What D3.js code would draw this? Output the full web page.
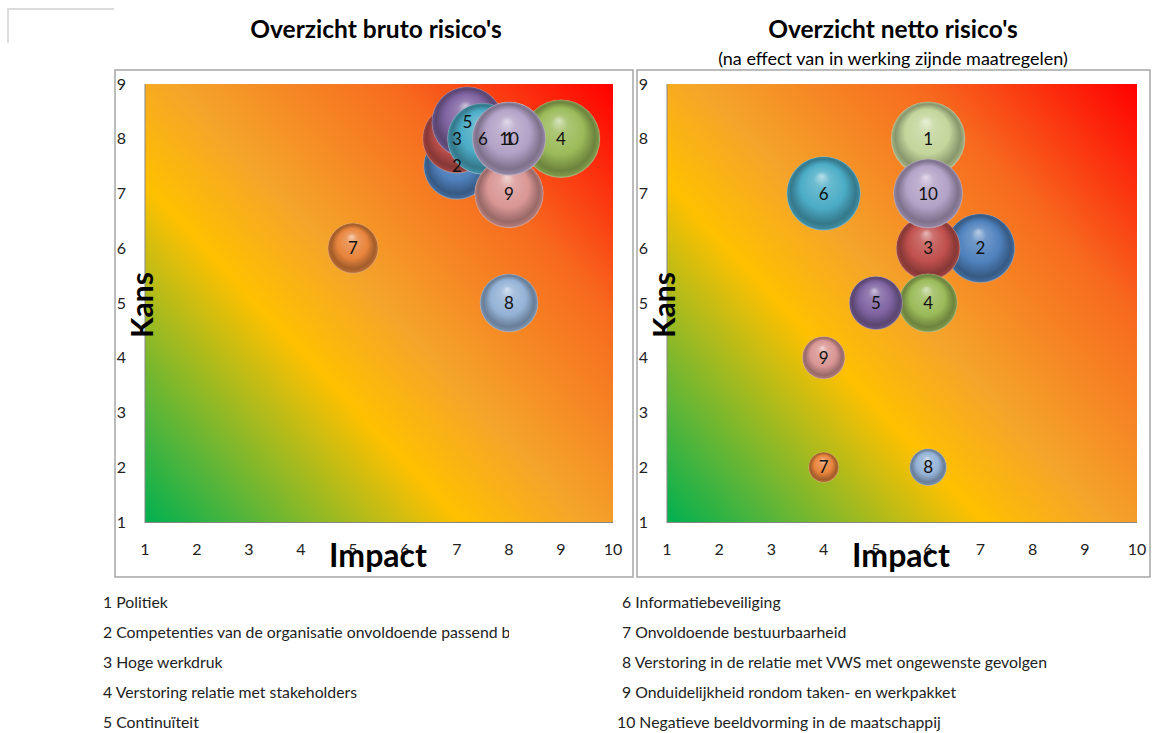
<!DOCTYPE html>
<html>
<head>
<meta charset="utf-8">
<script src="https://cdn.jsdelivr.net/npm/d3@7"></script>
<style>
  html, body { margin: 0; padding: 0; background: #ffffff; }
  svg { display: block; font-family: Lato, "Open Sans", sans-serif; }
</style>
</head>
<body>
<svg id="chart" width="1157" height="733"></svg>
<script>
// Risk register: names, ids and bubble positions (impact, kans) before and after measures
const riskIds = [1, 2, 3, 4, 5, 6, 7, 8, 9, 10];
const riskNames = [
  "Politiek",
  "Competenties van de organisatie onvoldoende passend bij",
  "Hoge werkdruk",
  "Verstoring relatie met stakeholders",
  "Continuïteit",
  "Informatiebeveiliging",
  "Onvoldoende bestuurbaarheid",
  "Verstoring in de relatie met VWS met ongewenste gevolgen",
  "Onduidelijkheid rondom taken- en werkpakket",
  "Negatieve beeldvorming in de maatschappij"
];
const riskColors = ["#c3d69b", "#4f81bd", "#c0504d", "#9bbb59", "#8064a2",
                    "#4bacc6", "#e8843c", "#95b3d7", "#d99694", "#b3a2c7"];

const brutoImpact = [8, 7, 7, 9, 7.2, 7.5, 5, 8, 8, 8];
const brutoKans   = [8, 7.5, 8, 8, 8.3, 8, 6, 5, 7, 8];
const brutoSize   = [64, 52.5, 56, 72, 60, 60, 30, 40, 56, 64];

const nettoImpact = [6, 7, 6, 6, 5, 4, 4, 6, 4, 6];
const nettoKans   = [8, 6, 6, 5, 5, 7, 2, 2, 4, 7];
const nettoSize   = [48, 42, 36, 30, 25, 48, 8, 12, 16, 42];

const impactTicks = [1, 2, 3, 4, 5, 6, 7, 8, 9, 10];
const kansTicks   = [1, 2, 3, 4, 5, 6, 7, 8, 9];

const svg = d3.select("#chart");
const defs = svg.append("defs");

// Sphere shading per risk colour
riskColors.forEach((c, i) => {
  const base = d3.color(c);
  const g = defs.append("radialGradient")
    .attr("id", "sphere" + i)
    .attr("cx", "50%").attr("cy", "50%").attr("r", "50%")
    .attr("fx", "47%").attr("fy", "26%");
  g.append("stop").attr("offset", "0%").attr("stop-color", d3.interpolateRgb(c, "#ffffff")(0.6));
  g.append("stop").attr("offset", "22%").attr("stop-color", d3.interpolateRgb(c, "#ffffff")(0.18));
  g.append("stop").attr("offset", "60%").attr("stop-color", base.formatHex());
  g.append("stop").attr("offset", "88%").attr("stop-color", base.darker(1.0).formatHex());
  g.append("stop").attr("offset", "97%").attr("stop-color", base.darker(0.6).formatHex());
  g.append("stop").attr("offset", "100%").attr("stop-color", d3.interpolateRgb(c, "#cccccc")(0.4));
});

// Top-left cell bracket
svg.append("path")
  .attr("d", "M8,43 V9 H114")
  .attr("fill", "none").attr("stroke", "#dcdcdc").attr("stroke-width", 2);

function drawPanel(opt) {
  const { frame, plot, impact, kans, size, rMax, title, subtitle, gid } = opt;

  // outer frame
  svg.append("rect")
    .attr("x", frame.x).attr("y", frame.y).attr("width", frame.w).attr("height", frame.h)
    .attr("fill", "#ffffff").attr("stroke", "#a6a6a6").attr("stroke-width", 1.5);

  const x = d3.scaleLinear().domain([1, 10]).range([plot.left, plot.right]);
  const y = d3.scaleLinear().domain([1, 9]).range([plot.bottom, plot.top]);
  const r = d3.scaleSqrt().domain([0, d3.max(size)]).range([0, rMax]);

  // risk gradient background: green (low) -> yellow -> orange -> red (high)
  const lg = defs.append("linearGradient").attr("id", gid)
    .attr("gradientUnits", "userSpaceOnUse")
    .attr("x1", plot.left).attr("y1", plot.bottom)
    .attr("x2", plot.right).attr("y2", plot.top);
  [[0, "#00b050"], [0.12, "#55b53a"], [0.36, "#ffc000"], [0.5, "#f4a52a"],
   [0.75, "#f76a1e"], [1, "#ff0000"]].forEach(s =>
    lg.append("stop").attr("offset", s[0]).attr("stop-color", s[1]));

  svg.append("rect")
    .attr("x", plot.left).attr("y", plot.top)
    .attr("width", plot.right - plot.left).attr("height", plot.bottom - plot.top)
    .attr("fill", `url(#${gid})`);

  // axis lines
  svg.append("line").attr("x1", plot.left).attr("x2", plot.left)
    .attr("y1", plot.top).attr("y2", plot.bottom + 1)
    .attr("stroke", "#868686").attr("stroke-width", 1);
  svg.append("line").attr("x1", plot.left).attr("x2", plot.right)
    .attr("y1", plot.bottom + 0.5).attr("y2", plot.bottom + 0.5)
    .attr("stroke", "#868686").attr("stroke-width", 1);

  // tick labels
  svg.append("g").selectAll("text").data(impactTicks).join("text")
    .attr("x", d => x(d)).attr("y", plot.bottom + 33)
    .attr("text-anchor", "middle").attr("font-size", 16).attr("fill", "#222")
    .text(d => d);
  svg.append("g").selectAll("text").data(kansTicks).join("text")
    .attr("x", frame.x + 6.5).attr("y", d => y(d) + 5.5)
    .attr("text-anchor", "middle").attr("font-size", 16).attr("fill", "#222")
    .text(d => d);

  // bubbles
  const pts = riskIds.map((id, i) => ({ id, i, ix: impact[i], k: kans[i], s: size[i] }));
  svg.append("g").selectAll("circle").data(pts).join("circle")
    .attr("cx", d => x(d.ix)).attr("cy", d => y(d.k)).attr("r", d => r(d.s))
    .attr("fill", d => `url(#sphere${d.i})`)
    .attr("stroke", "rgba(190,190,190,0.3)").attr("stroke-width", 0.6);
  svg.append("g").selectAll("text").data(pts).join("text")
    .attr("x", d => x(d.ix)).attr("y", d => y(d.k) + 6)
    .attr("text-anchor", "middle").attr("font-size", 17).attr("fill", "#111")
    .text(d => d.id);

  // axis titles
  svg.append("text")
    .attr("x", (plot.left + plot.right) / 2 - 1).attr("y", plot.bottom + 45)
    .attr("text-anchor", "middle").attr("font-size", 32).attr("font-weight", "bold")
    .attr("fill", "#000").text("Impact");
  svg.append("text")
    .attr("transform", `translate(${plot.left + 8},305) rotate(-90)`)
    .attr("text-anchor", "middle").attr("font-size", 30).attr("font-weight", "bold")
    .attr("fill", "#000").text("Kans");

  // titles
  svg.append("text")
    .attr("x", title.x).attr("y", 38)
    .attr("text-anchor", "middle").attr("font-size", 24.5).attr("font-weight", "bold")
    .attr("fill", "#000").text(title.text);
  if (subtitle) {
    svg.append("text")
      .attr("x", subtitle.x).attr("y", 65)
      .attr("text-anchor", "middle").attr("font-size", 18)
      .attr("fill", "#000").text(subtitle.text);
  }
}

drawPanel({
  frame: { x: 115, y: 70, w: 518, h: 507 },
  plot: { left: 145, right: 613, top: 84, bottom: 522 },
  impact: brutoImpact, kans: brutoKans, size: brutoSize, rMax: 39,
  title: { x: 376, text: "Overzicht bruto risico's" },
  gid: "bgBruto"
});
drawPanel({
  frame: { x: 637, y: 70, w: 513, h: 507 },
  plot: { left: 667, right: 1137, top: 84, bottom: 522 },
  impact: nettoImpact, kans: nettoKans, size: nettoSize, rMax: 37,
  title: { x: 893, text: "Overzicht netto risico's" },
  subtitle: { x: 893, text: "(na effect van in werking zijnde maatregelen)" },
  gid: "bgNetto"
});

// legend table below the charts; the first column cell cuts off overflowing text
defs.append("clipPath").attr("id", "legendClip")
  .append("rect").attr("x", 0).attr("y", 580).attr("width", 509).attr("height", 160);

const legend = svg.append("g").attr("font-size", 15.8).attr("fill", "#222");
riskIds.forEach((id, i) => {
  const col = i < 5 ? 0 : 1;
  const row = i % 5;
  const t = legend.append("text")
    .attr("x", col === 0 ? 103 : (id === 10 ? 617 : 622))
    .attr("y", 608 + row * 30)
    .text(id + " " + riskNames[i]);
  if (col === 0) t.attr("clip-path", "url(#legendClip)");
});
</script>
</body>
</html>
